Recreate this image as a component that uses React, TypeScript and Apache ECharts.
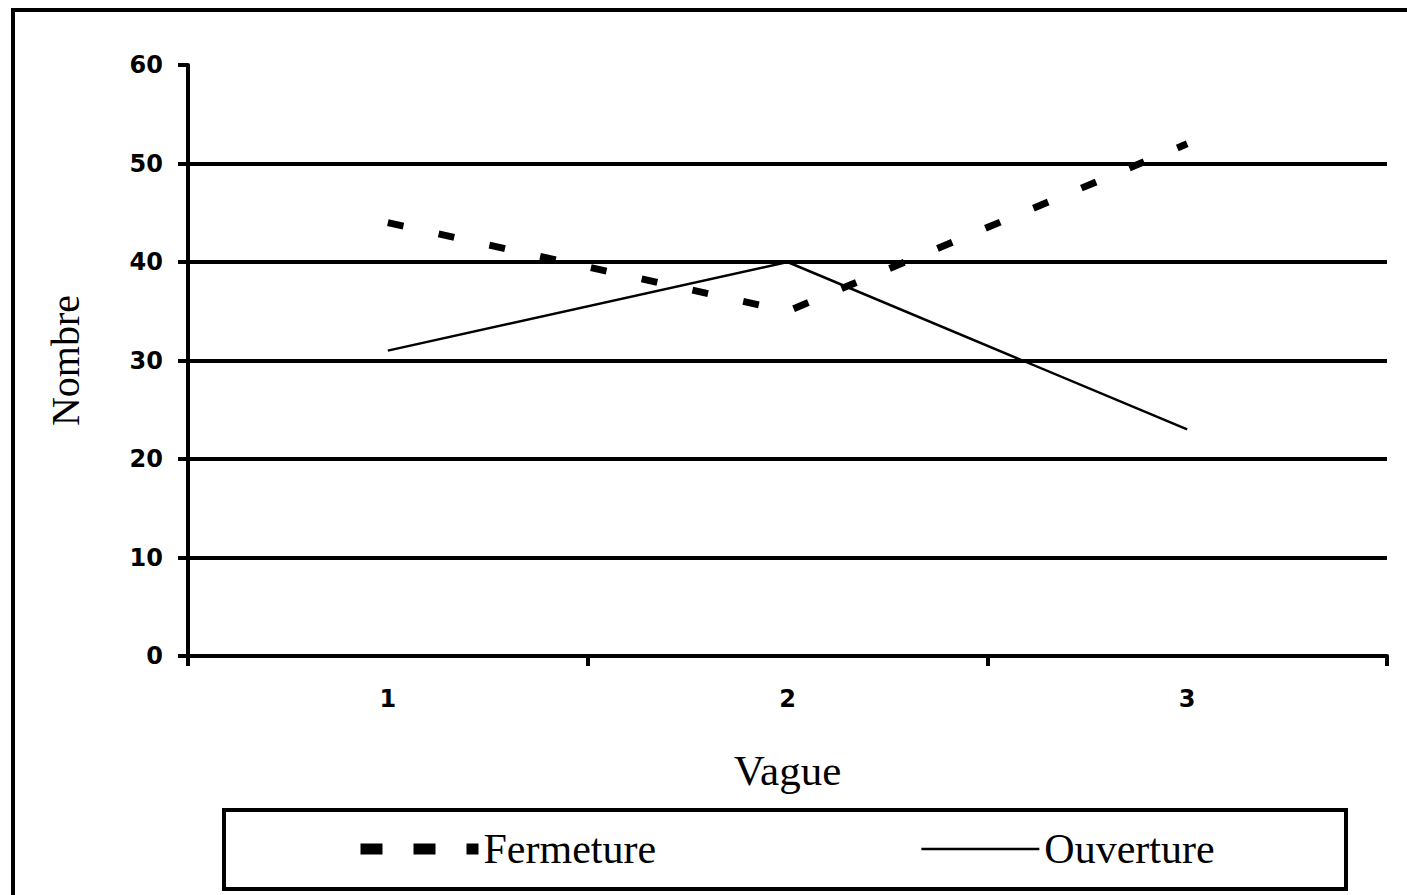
import React, { useEffect, useRef } from "react";
import * as echarts from "echarts";

const categories = ["1", "2", "3"];
const fermeture = [44, 35, 52];
const ouverture = [31, 40, 23];
const seriesNames = ["Fermeture", "Ouverture"];
const xTitle = "Vague";
const yTitle = "Nombre";

export default function App() {
  const ref = useRef<HTMLDivElement>(null);
  useEffect(() => {
    if (!ref.current) return;
    const chart = echarts.init(ref.current, null, { renderer: "svg" });
    const serif = "'Liberation Serif', 'Times New Roman', serif";
    const sans = "'DejaVu Sans', sans-serif";
    chart.setOption({
      animation: false,
      backgroundColor: "#ffffff",
      grid: { left: 188, right: 20, top: 65, bottom: 239, containLabel: false },
      xAxis: {
        type: "category",
        data: categories,
        boundaryGap: true,
        name: xTitle,
        nameLocation: "middle",
        nameGap: 93,
        nameTextStyle: { fontFamily: serif, fontSize: 43, color: "#000", lineHeight: 43 },
        axisLine: { lineStyle: { color: "#000", width: 4 } },
        axisTick: { show: true, length: 10, lineStyle: { color: "#000", width: 4 }, alignWithLabel: false },
        axisLabel: { margin: 31, fontFamily: sans, fontWeight: "bold", fontSize: 24, color: "#000" },
        splitLine: { show: false },
      },
      yAxis: {
        type: "value",
        min: 0,
        max: 60,
        interval: 10,
        name: yTitle,
        nameLocation: "middle",
        nameGap: 103,
        nameTextStyle: { fontFamily: serif, fontSize: 40, color: "#000", lineHeight: 40 },
        axisLine: { show: true, lineStyle: { color: "#000", width: 4 } },
        axisTick: { show: true, length: 10, lineStyle: { color: "#000", width: 4 } },
        axisLabel: { margin: 25, fontFamily: sans, fontWeight: "bold", fontSize: 24, color: "#000" },
        splitLine: { show: true, showMinLine: false, showMaxLine: false, lineStyle: { color: "#000", width: 4 } },
      },
      legend: {
        left: 355,
        top: 828,
        padding: 0,
        itemWidth: 118,
        itemHeight: 12,
        itemGap: 264,
        textStyle: { fontFamily: serif, fontSize: 42, color: "#000", lineHeight: 42 },
        data: [
          {
            name: seriesNames[0],
            lineStyle: { width: 11, type: [22, 31], color: "#000" },
            itemStyle: { opacity: 0 },
          },
          {
            name: seriesNames[1],
            lineStyle: { width: 2.5, type: "solid", color: "#000" },
            itemStyle: { opacity: 0 },
          },
        ],
      },
      graphic: [
        {
          type: "rect",
          shape: { x: 13, y: 10, width: 1600, height: 1200 },
          style: { fill: "none", stroke: "#000", lineWidth: 4 },
          silent: true,
        },
        {
          type: "rect",
          shape: { x: 224, y: 810, width: 1122, height: 79 },
          style: { fill: "none", stroke: "#000", lineWidth: 4 },
          silent: true,
        },
      ],
      series: [
        {
          name: seriesNames[0],
          type: "line",
          data: fermeture,
          symbol: "none",
          lineStyle: { color: "#000", width: 7, type: [16, 36], cap: "butt" },
          itemStyle: { color: "#000" },
        },
        {
          name: seriesNames[1],
          type: "line",
          data: ouverture,
          symbol: "none",
          lineStyle: { color: "#000", width: 2.5, type: "solid" },
          itemStyle: { color: "#000" },
        },
      ],
    });
    return () => chart.dispose();
  }, []);
  return (
    <div
      ref={ref}
      style={{ position: "fixed", left: 0, top: 0, width: 1407, height: 895, background: "#fff" }}
    />
  );
}
